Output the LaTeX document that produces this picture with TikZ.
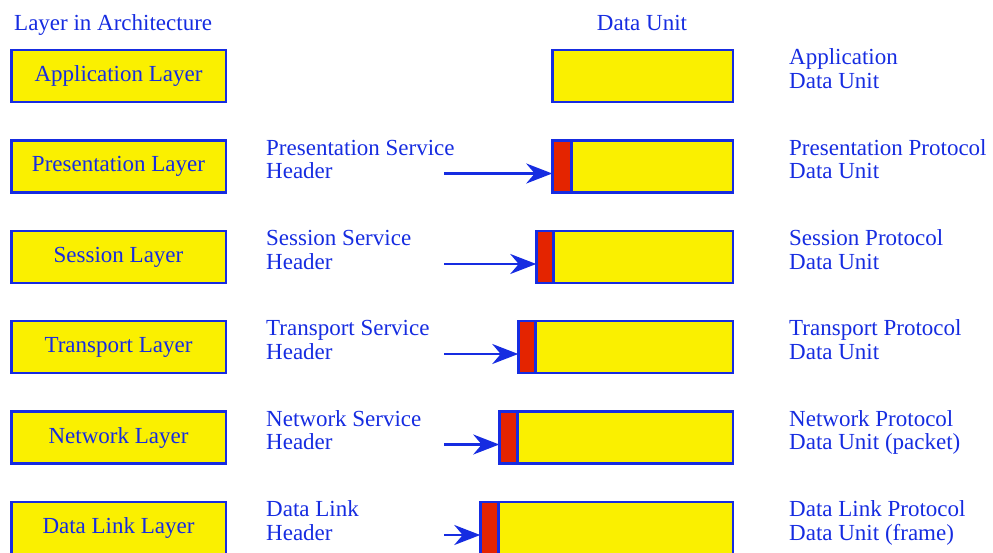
\documentclass[tikz,border=0pt]{standalone}
\usepackage{fontspec}
\setmainfont{Liberation Serif}
\usetikzlibrary{arrows.meta,positioning}
\definecolor{layerblue}{RGB}{22, 44, 225}
\definecolor{layeryellow}{RGB}{250, 240, 0}
\definecolor{headerred}{RGB}{228, 36, 0}

\begin{document}
\begin{tikzpicture}[x=1pt,y=-1pt,
  labeltext/.style={text=layerblue, font=\fontsize{23}{23.5}\selectfont, inner sep=0pt, align=left, anchor=base west},
  layerbox/.style={draw=layerblue, fill=layeryellow, line width=2.5pt, minimum width=214.5pt, minimum height=52pt, inner sep=0pt, outer sep=0pt, text=layerblue, font=\fontsize{23}{23.5}\selectfont},
  unitbox/.style={draw=layerblue, fill=layeryellow, line width=2.5pt, minimum height=52pt, inner sep=0pt, outer sep=0pt, anchor=west},
  hdrbox/.style={draw=layerblue, fill=headerred, line width=2.5pt, minimum height=52pt, inner sep=0pt, outer sep=0pt, anchor=west},
  hdrarrow/.style={draw=layerblue, line width=2.5pt, -{Stealth[length=26pt,width=20pt]}}]

  % Fix the page size
  \useasboundingbox (0,0) rectangle (993,552);
  \clip (0,0) rectangle (993,552);

  % Column titles
  \node[labeltext] (coltitle) at (14,30.5) {Layer in Architecture};
  \node[labeltext, anchor=base] (unittitle) at (642,30.5) {Data Unit};

  % Application row, no header
  \node[layerbox] (layer1) at (118.5,76) {Application Layer};
  \node[unitbox, minimum width={732.75-552.25}] (du1) at (552.25,76) {};
  \node[labeltext] (pdu1) at (789,88) {Application\\Data Unit};

  % Rows with a service header in front of the data unit
  \foreach \i/\y/\hx/\hw/\lname/\hname/\pname in {
      2/166.5/551/19/Presentation Layer/Presentation Service/Presentation Protocol\\Data Unit,
      3/257/535/17/Session Layer/Session Service/Session Protocol\\Data Unit,
      4/347/517/17/Transport Layer/Transport Service/Transport Protocol\\Data Unit,
      5/437.5/498/18/Network Layer/Network Service/Network Protocol\\Data Unit (packet),
      6/528/479/18/Data Link Layer/Data Link/Data Link Protocol\\Data Unit (frame)} {

    % Layer box on the left
    \node[layerbox] (layer\i) at (118.5,\y) {\lname};

    % Header label and arrow
    \node[labeltext] (hlabel\i) at (266,\y+12) {\hname\\Header};
    \node[hdrbox, minimum width=\hw] (hdr\i) at (\hx+1.25,\y) {};
    \coordinate (tail\i) at (444,\y+7);
    \draw[hdrarrow] (tail\i) -- (tail\i -| hdr\i.west);

    % Data unit behind the header
    \path (hdr\i.east) coordinate (dustart\i);
    \node[unitbox, minimum width={732.75-\hx-1.25-\hw}] (du\i) at (dustart\i) {};
    \draw[layerblue, line width=2.5pt] (hdr\i.north east) -- (hdr\i.south east);

    % Protocol data unit label
    \node[labeltext] (pdu\i) at (789,\y+12) {\pname};
  }

\end{tikzpicture}
\end{document}
